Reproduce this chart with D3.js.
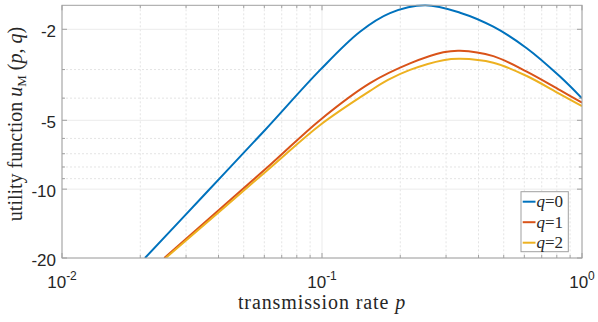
<!DOCTYPE html>
<html>
<head>
<meta charset="utf-8">
<script src="https://cdn.jsdelivr.net/npm/d3@7"></script>
<style>
  body { margin: 0; background: #fff; }
  svg { display: block; }
</style>
</head>
<body>
<div id="chart"></div>
<script>
// values (p = transmission rate, u = utility)
var p_q0 = [0.02085, 0.0355, 0.0604, 0.0984, 0.140, 0.1826, 0.249, 0.3395, 0.456, 0.613, 0.823, 1.0];
var u_q0 = [-20, -10.5, -5.51, -3.01, -2.05, -1.70, -1.571, -1.692, -1.949, -2.42, -3.22, -4.01];

var p_q1 = [0.02474, 0.0631, 0.0984, 0.153, 0.218, 0.2927, 0.3395, 0.456, 0.613, 0.823, 1.0];
var u_q1 = [-20, -7.84, -4.98, -3.44, -2.82, -2.52, -2.48, -2.62, -3.06, -3.69, -4.19];

var p_q2 = [0.02504, 0.0631, 0.0984, 0.153, 0.1794, 0.218, 0.2927, 0.3395, 0.456, 0.613, 0.823, 1.0];
var u_q2 = [-20, -8.08, -5.24, -3.72, -3.33, -3.01, -2.73, -2.69, -2.80, -3.20, -3.84, -4.33];

var seriesNames = ['0', '1', '2'];
var seriesColors = ['#0072BD', '#D95319', '#EDB120'];

var xTicks = [0.01, 0.1, 1];
var xTickExp = ['-2', '-1', '0'];
var xMinor = [0.02, 0.03, 0.04, 0.05, 0.06, 0.07, 0.08, 0.09, 0.2, 0.3, 0.4, 0.5, 0.6, 0.7, 0.8, 0.9];
var yTicks = [-2, -5, -10, -20];
var yMinor = [-3, -4, -6, -7, -8, -9];

var W = 598, H = 322;
var mLeft = 62, mRight = 582, mTop = 5.3, mBottom = 258;

var svg = d3.select('#chart').append('svg')
    .attr('width', W)
    .attr('height', H);

var x = d3.scaleLog().domain([0.01, 1]).range([mLeft, mRight]);
// y axis is logarithmic in -u
var yl = d3.scaleLog().domain([Math.PI / 2, 20]).range([mTop, mBottom]);
var y = function(u) { return yl(-u); };

//grid
var grid = svg.append('g');
grid.selectAll('.xminor').data(xMinor).enter().append('line')
    .attr('x1', d => x(d)).attr('x2', d => x(d))
    .attr('y1', mTop).attr('y2', mBottom)
    .attr('stroke', '#e4e4e4').attr('stroke-width', 1)
    .attr('stroke-dasharray', '2,2');
grid.selectAll('.yminor').data(yMinor).enter().append('line')
    .attr('x1', mLeft).attr('x2', mRight)
    .attr('y1', d => y(d)).attr('y2', d => y(d))
    .attr('stroke', '#e4e4e4').attr('stroke-width', 1)
    .attr('stroke-dasharray', '2,2');
grid.selectAll('.xmajor').data(xTicks).enter().append('line')
    .attr('x1', d => x(d)).attr('x2', d => x(d))
    .attr('y1', mTop).attr('y2', mBottom)
    .attr('stroke', '#ebebeb').attr('stroke-width', 1);
grid.selectAll('.ymajor').data(yTicks).enter().append('line')
    .attr('x1', mLeft).attr('x2', mRight)
    .attr('y1', d => y(d)).attr('y2', d => y(d))
    .attr('stroke', '#ebebeb').attr('stroke-width', 1);

//curves
var line = d3.line()
    .x(d => x(d[0]))
    .y(d => y(d[1]))
    .curve(d3.curveCatmullRom.alpha(0.5));

var series = [
    d3.zip(p_q0, u_q0),
    d3.zip(p_q1, u_q1),
    d3.zip(p_q2, u_q2)
];

svg.append('defs').append('clipPath').attr('id', 'clip')
    .append('rect').attr('x', mLeft).attr('y', mTop - 1)
    .attr('width', mRight - mLeft).attr('height', mBottom - mTop + 1);

svg.append('g').attr('clip-path', 'url(#clip)')
    .selectAll('path').data(series).enter().append('path')
    .attr('d', line)
    .attr('fill', 'none')
    .attr('stroke', (d, i) => seriesColors[i])
    .attr('stroke-width', 2);

//box and ticks
var axisColor = '#a0a0a0';
svg.append('rect')
    .attr('x', mLeft).attr('y', mTop)
    .attr('width', mRight - mLeft).attr('height', mBottom - mTop)
    .attr('fill', 'none').attr('stroke', axisColor).attr('stroke-width', 1);

var ticks = svg.append('g').attr('stroke', axisColor).attr('stroke-width', 1);
function xTickMarks(data, len) {
    data.forEach(function(d) {
        ticks.append('line').attr('x1', x(d)).attr('x2', x(d)).attr('y1', mBottom).attr('y2', mBottom - len);
        ticks.append('line').attr('x1', x(d)).attr('x2', x(d)).attr('y1', mTop).attr('y2', mTop + len);
    });
}
function yTickMarks(data, len) {
    data.forEach(function(d) {
        ticks.append('line').attr('y1', y(d)).attr('y2', y(d)).attr('x1', mLeft).attr('x2', mLeft + len);
        ticks.append('line').attr('y1', y(d)).attr('y2', y(d)).attr('x1', mRight).attr('x2', mRight - len);
    });
}
xTickMarks(xTicks, 5);
xTickMarks(xMinor, 3);
yTickMarks(yTicks, 5);
yTickMarks(yMinor, 3);

//tick labels
var tickFont = '"Liberation Sans", Arial, sans-serif';
svg.selectAll('.ylab').data(yTicks).enter().append('text')
    .attr('x', mLeft - 6)
    .attr('y', d => y(d) + 7.5)
    .attr('text-anchor', 'end')
    .attr('font-family', tickFont)
    .attr('font-size', 17)
    .attr('fill', '#262626')
    .text(d => d);

var xl = svg.selectAll('.xlab').data(xTicks).enter().append('text')
    .attr('x', d => x(d))
    .attr('y', 287.5)
    .attr('text-anchor', 'middle')
    .attr('font-family', tickFont)
    .attr('font-size', 17)
    .attr('fill', '#262626');
xl.append('tspan').text('10');
xl.append('tspan')
    .attr('dy', -8)
    .attr('font-size', 12)
    .text((d, i) => xTickExp[i]);

//axis titles
var serif = '"Liberation Serif", "Times New Roman", serif';
var xt = svg.append('text')
    .attr('x', (mLeft + mRight) / 2)
    .attr('y', 309)
    .attr('text-anchor', 'middle')
    .attr('font-family', serif)
    .attr('font-size', 20)
    .attr('letter-spacing', 0.9)
    .attr('fill', '#262626');
xt.append('tspan').text('transmission rate ');
xt.append('tspan').attr('font-style', 'italic').text('p');

var yt = svg.append('text')
    .attr('transform', 'translate(22,' + 124 + ') rotate(-90)')
    .attr('text-anchor', 'middle')
    .attr('font-family', serif)
    .attr('font-size', 20)
    .attr('fill', '#262626');
yt.append('tspan').text('utility function ');
yt.append('tspan').attr('font-style', 'italic').text('u');
yt.append('tspan').attr('font-size', 13).attr('dy', 4).text('M');
yt.append('tspan').attr('dy', -4).text(' (');
yt.append('tspan').attr('font-style', 'italic').text('p');
yt.append('tspan').text(', ');
yt.append('tspan').attr('font-style', 'italic').text('q');
yt.append('tspan').text(')');

//legend
var lg = svg.append('g');
lg.append('rect')
    .attr('x', 521).attr('y', 191.7)
    .attr('width', 47.3).attr('height', 60)
    .attr('fill', '#fff').attr('stroke', axisColor).attr('stroke-width', 1);
var item = lg.selectAll('.item').data(seriesNames).enter().append('g')
    .attr('transform', (d, i) => 'translate(0,' + (201.7 + i * 20.5) + ')');
item.append('line')
    .attr('x1', 522.7).attr('x2', 535.5)
    .attr('y1', 0).attr('y2', 0)
    .attr('stroke', (d, i) => seriesColors[i])
    .attr('stroke-width', 2);
var it = item.append('text')
    .attr('x', 536.5).attr('y', 5.5)
    .attr('font-family', serif)
    .attr('font-size', 17)
    .attr('fill', '#262626');
it.append('tspan').attr('font-style', 'italic').text('q');
it.append('tspan').text(d => '=' + d);
</script>
</body>
</html>
